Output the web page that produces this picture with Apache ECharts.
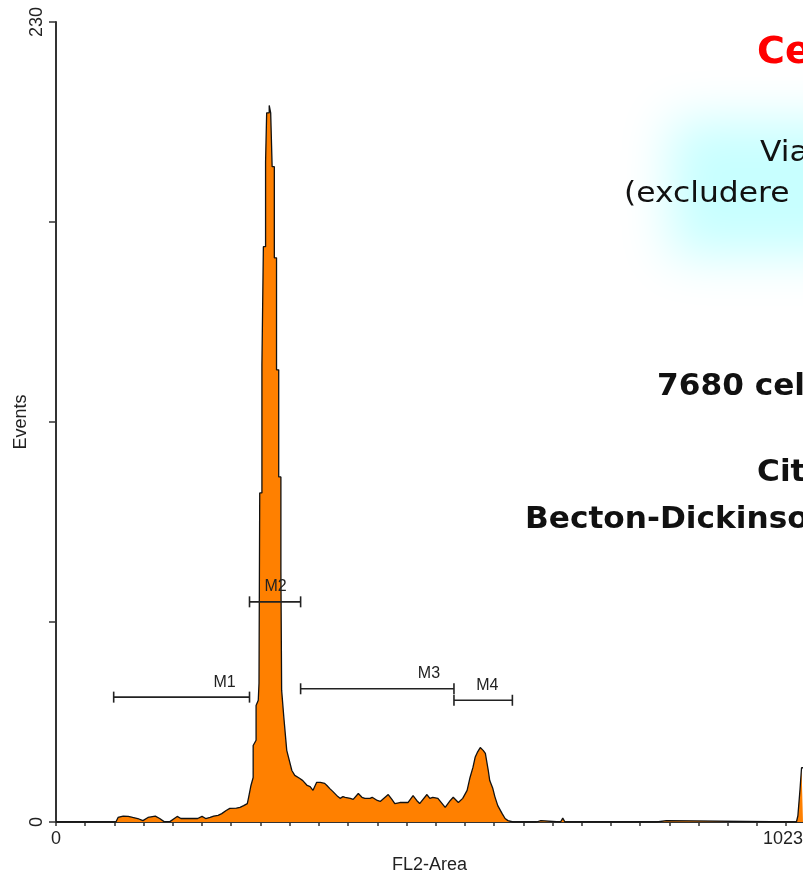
<!DOCTYPE html>
<html><head><meta charset="utf-8">
<script src="https://cdn.jsdelivr.net/npm/echarts@6/dist/echarts.min.js"></script>
<style>html,body{margin:0;padding:0;background:#fff;overflow:hidden}#c{width:803px;height:878px}</style>
</head><body><div id="c"></div>
<script>
// FL2-Area channel (x) and number of events (y)
const channels = [0,82,85,92,99,105,112,119,126,136,142,148,156,162,166,171,184,194,200,205,211,216,222,227,233,238,247,252,257,262,
264,267,270,270,274,274,277,278,279,279,282,282,284,284,287,287,288.5,288.5,292,292,294,294,296,296,299,299,302,302,305,305,308,308,309,312,316,323,327,
334,338,344,348,352,357,362,368,371,375,379,386,389,393,396,403,407,414,419,423,430,433,440,444,455,460,464,471,475,482,489,494,498,508,512,516,523,533,540,544,551,557,563,567,571,574,577,581,585,588,592,594,598,601,605,611,615,619,626,
644,646,649,658,660,664,666,691,694,697,729,731,733,822,824,836,838,1014,1016,1018,1019,1020,1021,1023];
const counts = [0,0,1.3,1.7,1.6,1.3,1.0,0.4,1.3,1.7,1.0,0.1,0.1,1.0,1.6,1.0,1.0,1.0,1.6,1.0,1.3,1.7,1.9,2.4,3.3,3.9,4.0,4.2,4.7,5.3,
7.3,10.5,12.8,22.0,23.5,33.5,35.0,39.9,39.9,94.6,94.6,131.4,131.4,165.4,165.4,189.8,189.8,203.9,203.9,206,206,203.9,203.9,188.4,188.4,162.2,162.2,130,130,99.2,99.2,72.4,37.9,30.1,20.6,14.8,13.4,
12.5,11.9,10.5,10.2,9.1,11.4,11.4,11.1,10.5,9.6,8.8,7.3,6.8,7.3,7.1,6.8,6.5,8.2,7.1,6.8,6.8,7.1,6.2,5.9,7.9,6.5,5.3,5.6,5.6,5.6,7.6,6.2,5.3,7.9,6.8,7.1,6.8,4.2,6.2,7.1,5.6,6.8,9.1,12.8,15.7,18.6,20.0,21.4,20.6,19.7,14.8,11.9,9.8,7.3,4.7,2.4,1.0,0.4,0,
0,0.4,0,0,0.4,0.4,0,0,1.1,0,0,0.4,0,0,0.4,0.4,0,0,1.8,1.8,9.6,9.6,15.6,15.6];

// Region markers
const markerNames = ['M1','M2','M3','M4'];
const markerStart = [79, 265, 335, 545];
const markerEnd = [265, 335, 545, 625];
const markerLevel = [35.9, 63.3, 38.3, 35.0];

// Axis ticks and labels
const xTickValues = [0,40,80,120,160,200,240,280,320,360,400,440,480,520,560,600,640,680,720,760,800,840,880,920,960,1000];
const xLabelValues = [0, 1023];
const yTickValues = [0, 57.5, 115, 172.5, 230];
const yLabelValues = [0, 230];

const FONT = '"Liberation Sans", Arial, sans-serif';
const AX = '#333';
const SH = {textShadowColor: 'rgba(0,0,0,0.28)', textShadowOffsetX: 2, textShadowOffsetY: 2};

const chart = echarts.init(document.getElementById('c'));
chart.setOption({
  animation: false,
  backgroundColor: '#fff',
  grid: {left: 56, right: 0, top: 22, bottom: 56, containLabel: false, outerBoundsMode: 'none'},
  xAxis: {
    type: 'value', min: 0, max: 1023,
    axisLine: {show: true, lineStyle: {color: AX, width: 2}},
    axisTick: {show: true, length: 4, customValues: xTickValues, lineStyle: {color: AX, width: 1.5}},
    axisLabel: {customValues: xLabelValues, formatter: v => String(v), fontSize: 18, color: '#222', margin: 8,
                fontFamily: FONT, alignMaxLabel: 'right'},
    splitLine: {show: false},
    name: 'FL2-Area', nameLocation: 'middle', nameGap: 34, nameMoveOverlap: false,
    nameTextStyle: {fontSize: 18, color: '#222', fontFamily: FONT}
  },
  yAxis: {
    type: 'value', min: 0, max: 230,
    axisLine: {show: true, lineStyle: {color: AX, width: 2}},
    axisTick: {show: true, length: 7, customValues: yTickValues, lineStyle: {color: AX, width: 1.5}},
    axisLabel: {customValues: yLabelValues, formatter: v => String(v), rotate: 90, fontSize: 18, color: '#222',
                margin: 10, fontFamily: FONT},
    splitLine: {show: false},
    name: 'Events', nameLocation: 'middle', nameGap: 26, nameRotate: 90, nameMoveOverlap: false,
    nameTextStyle: {fontSize: 18, color: '#222', fontFamily: FONT}
  },
  series: [
    {
      type: 'line',
      data: channels.map((c, i) => [c, counts[i]]),
      showSymbol: false, symbol: 'none',
      lineStyle: {color: '#111', width: 1.3},
      areaStyle: {color: '#FF8000', opacity: 1},
      z: 2
    },
    {
      type: 'custom',
      data: markerStart.map((s, i) => [s, markerEnd[i], markerLevel[i]]),
      encode: {x: [0, 1], y: 2},
      clip: false, z: 5,
      renderItem: function (params, api) {
        const s = api.coord([api.value(0), api.value(2)]);
        const e = api.coord([api.value(1), api.value(2)]);
        const h = 5.5;
        const st = {stroke: '#222', lineWidth: 1.6};
        return {type: 'group', children: [
          {type: 'line', shape: {x1: s[0], y1: s[1], x2: e[0], y2: e[1]}, style: st},
          {type: 'line', shape: {x1: s[0], y1: s[1] - h, x2: s[0], y2: s[1] + h}, style: st},
          {type: 'line', shape: {x1: e[0], y1: e[1] - h, x2: e[0], y2: e[1] + h}, style: st},
          {type: 'text', x: e[0] - 25, y: s[1] - 15,
           style: {text: markerNames[params.dataIndex], fontSize: 16, fontFamily: FONT, fill: '#222', align: 'center', verticalAlign: 'middle'}}
        ]};
      }
    }
  ],
  graphic: [
    // soft cyan glow: shadow of an off-canvas rectangle
    {type: 'rect', silent: true, z: -10, shape: {x: 1670, y: 120, width: 380, height: 136, r: 10},
     style: {fill: '#c8ffff', shadowBlur: 50, shadowColor: '#c8ffff', shadowOffsetX: -1000}},
    {type: 'text', x: 757, y: 53, z: 10,
     style: Object.assign({text: 'Ce', font: 'bold 38px "DejaVu Sans"', fill: '#ff0000', verticalAlign: 'middle'}, SH)},
    {type: 'text', x: 760, y: 154, z: 10, scaleX: 1.12,
     style: {text: 'Via', font: '28px "DejaVu Sans"', fill: '#111', verticalAlign: 'middle'}},
    {type: 'text', x: 624, y: 195, z: 10, scaleX: 1.12,
     style: {text: '(excludere', font: '28px "DejaVu Sans"', fill: '#111', verticalAlign: 'middle'}},
    {type: 'text', x: 657, y: 387, z: 10, scaleX: 1.04,
     style: Object.assign({text: '7680 cel', font: 'bold 30px "DejaVu Sans"', fill: '#111', verticalAlign: 'middle'}, SH)},
    {type: 'text', x: 757, y: 473, z: 10, scaleX: 1.04,
     style: Object.assign({text: 'Cit', font: 'bold 30px "DejaVu Sans"', fill: '#111', verticalAlign: 'middle'}, SH)},
    {type: 'text', x: 525, y: 520, z: 10, scaleX: 1.04,
     style: Object.assign({text: 'Becton-Dickinso', font: 'bold 30px "DejaVu Sans"', fill: '#111', verticalAlign: 'middle'}, SH)}
  ]
});
</script></body></html>
